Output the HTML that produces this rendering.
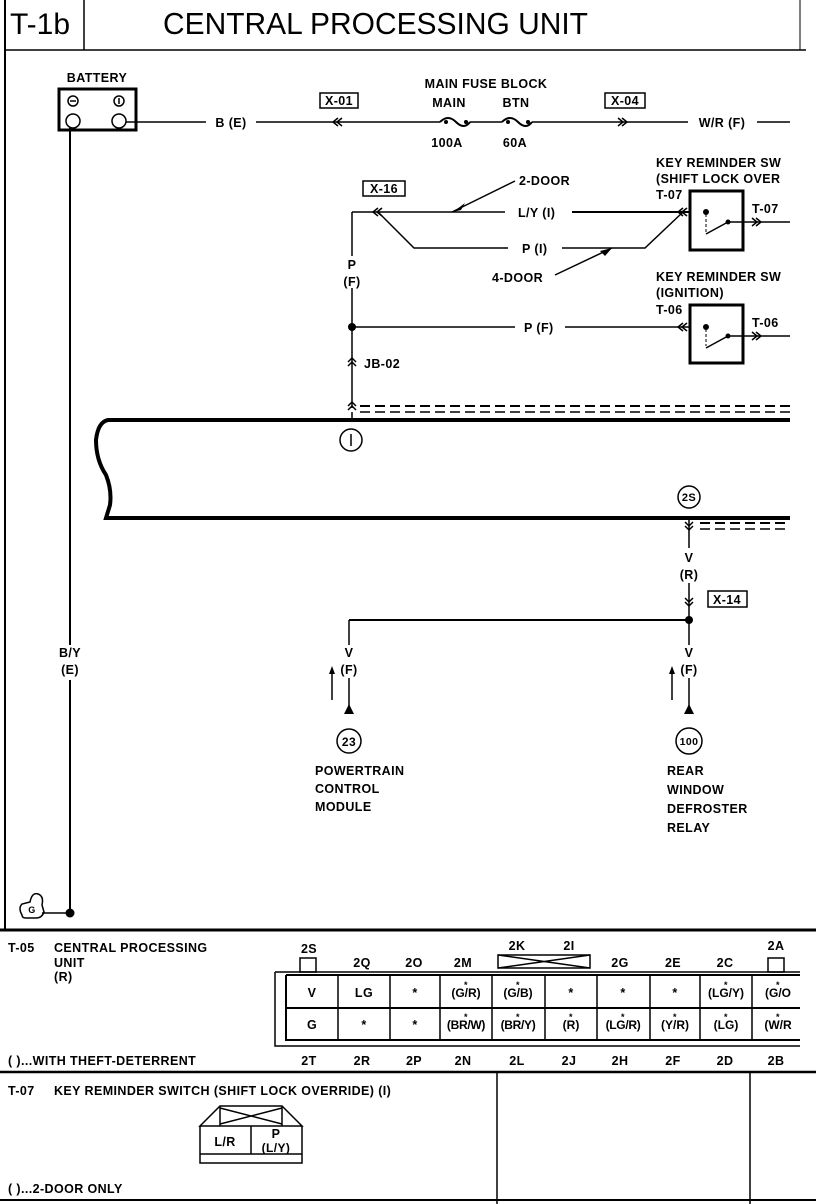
<!DOCTYPE html>
<html><head><meta charset="utf-8"><style>
html,body{margin:0;padding:0;background:#fff}
svg{display:block}
text{font-family:"Liberation Sans",sans-serif;font-weight:bold;font-size:12px;fill:#000;letter-spacing:0.4px}
.m{text-anchor:middle}
</style></head><body>
<svg width="816" height="1204" viewBox="0 0 816 1204" xmlns="http://www.w3.org/2000/svg">
<g stroke="#000" fill="none">
<line x1="5" y1="0" x2="5" y2="930" stroke-width="2"/>
<line x1="84" y1="0" x2="84" y2="50" stroke-width="1.5"/>
<line x1="800" y1="0" x2="800" y2="50" stroke-width="1"/>
<line x1="5" y1="50" x2="806" y2="50" stroke-width="1.5"/>
<rect x="59" y="89" width="77" height="41" stroke-width="3"/>
<circle cx="73" cy="101" r="5" stroke-width="1.5"/><line x1="70" y1="101" x2="76" y2="101" stroke-width="1.5"/>
<circle cx="119" cy="101" r="5" stroke-width="1.5"/><line x1="119" y1="98" x2="119" y2="104" stroke-width="1.5"/>
<circle cx="73" cy="121" r="7" stroke-width="1.5"/>
<circle cx="119" cy="121" r="7" stroke-width="1.5"/>
<line x1="126" y1="122" x2="206" y2="122" stroke-width="1.5"/>
<line x1="256" y1="122" x2="440" y2="122" stroke-width="1.5"/>
<path d="M440 122 Q448 114 456 122 T470 122" stroke-width="2"/>
<line x1="470" y1="122" x2="502" y2="122" stroke-width="1.5"/>
<path d="M502 122 Q510 114 518 122 T532 122" stroke-width="2"/>
<line x1="532" y1="122" x2="688" y2="122" stroke-width="1.5"/>
<line x1="757" y1="122" x2="790" y2="122" stroke-width="1.5"/>
<path d="M338 118 l-5 4 5 4 M342 118 l-5 4 5 4" stroke-width="1.5"/>
<path d="M618 118 l5 4 -5 4 M622 118 l5 4 -5 4" stroke-width="1.5"/>
<rect x="320" y="93" width="38" height="15" stroke-width="1.5"/>
<rect x="605" y="93" width="40" height="15" stroke-width="1.5"/>
<line x1="70" y1="128" x2="70" y2="645" stroke-width="2"/>
<line x1="70" y1="680" x2="70" y2="913" stroke-width="2"/>
<line x1="42" y1="913" x2="70" y2="913" stroke-width="1.5"/>
<path d="M22 915 Q18 908 22 904 L30 902 Q32 892 38 894 Q44 896 42 905 L44 912 Q42 918 36 918 L26 918 Q22 918 22 915 Z" stroke-width="1.5"/>
<rect x="363" y="181" width="42" height="15" stroke-width="1.5"/>
<line x1="352" y1="212" x2="352" y2="256" stroke-width="1.5"/>
<line x1="352" y1="212" x2="505" y2="212" stroke-width="1.5"/>
<line x1="572" y1="212" x2="690" y2="212" stroke-width="2"/>
<path d="M378 208 l-5 4 5 4 M382 208 l-5 4 5 4" stroke-width="1.5"/>
<polyline points="378,212 414,248 508,248" stroke-width="1.5"/>
<polyline points="562,248 645,248 683,212" stroke-width="1.5"/>
<path d="M683 208 l-5 4 5 4 M687 208 l-5 4 5 4" stroke-width="1.5"/>
<line x1="515" y1="181" x2="452" y2="212" stroke-width="1.5"/>
<line x1="555" y1="275" x2="612" y2="248" stroke-width="1.5"/>
<rect x="690" y="191" width="53" height="59" stroke-width="3"/>
<circle cx="706" cy="212" r="2.5" fill="#000"/>
<line x1="706" y1="214" x2="706" y2="232" stroke-dasharray="3,2"/>
<line x1="706" y1="234" x2="728" y2="222" stroke-width="1.5"/>
<circle cx="728" cy="222" r="2" fill="#000"/>
<line x1="728" y1="222" x2="790" y2="222" stroke-width="1.5"/>
<path d="M752 218 l5 4 -5 4 M756 218 l5 4 -5 4" stroke-width="1.5"/>
<line x1="352" y1="288" x2="352" y2="408" stroke-width="1.5"/>
<line x1="352" y1="327" x2="515" y2="327" stroke-width="1.5"/>
<line x1="565" y1="327" x2="690" y2="327" stroke-width="1.5"/>
<path d="M683 323 l-5 4 5 4 M687 323 l-5 4 5 4" stroke-width="1.5"/>
<rect x="690" y="305" width="53" height="58" stroke-width="3"/>
<circle cx="706" cy="327" r="2.5" fill="#000"/>
<line x1="706" y1="329" x2="706" y2="346" stroke-dasharray="3,2"/>
<line x1="706" y1="348" x2="728" y2="336" stroke-width="1.5"/>
<circle cx="728" cy="336" r="2" fill="#000"/>
<line x1="728" y1="336" x2="790" y2="336" stroke-width="1.5"/>
<path d="M752 332 l5 4 -5 4 M756 332 l5 4 -5 4" stroke-width="1.5"/>
<path d="M348 362 l4 -4 4 4 M348 366 l4 -4 4 4" stroke-width="1.5"/>
<path d="M348 406 l4 -4 4 4 M348 410 l4 -4 4 4" stroke-width="1.5"/>
<line x1="360" y1="406" x2="790" y2="406" stroke-width="2" stroke-dasharray="10,5"/>
<line x1="360" y1="412" x2="790" y2="412" stroke-width="1.5" stroke-dasharray="10,5"/>
<path d="M790 420 L108 420 Q98 422 96 440 Q96 460 106 475 Q112 490 110 505 L106 518 L790 518" stroke-width="4"/>
<line x1="352" y1="412" x2="352" y2="420" stroke-width="1.5"/>
<circle cx="351" cy="440" r="11" stroke-width="1.5"/>
<line x1="351" y1="434" x2="351" y2="446" stroke-width="1.5"/>
<circle cx="689" cy="497" r="11" stroke-width="1.5"/>
<line x1="700" y1="523" x2="790" y2="523" stroke-width="2" stroke-dasharray="10,5"/>
<line x1="700" y1="529" x2="790" y2="529" stroke-width="1.5" stroke-dasharray="10,5"/>
<line x1="689" y1="518" x2="689" y2="548" stroke-width="1.5"/>
<path d="M685 522 l4 4 4 -4 M685 526 l4 4 4 -4" stroke-width="1.5"/>
<line x1="689" y1="583" x2="689" y2="645" stroke-width="1.5"/>
<path d="M685 598 l4 4 4 -4 M685 602 l4 4 4 -4" stroke-width="1.5"/>
<rect x="708" y="591" width="39" height="16" stroke-width="1.5"/>
<line x1="349" y1="620" x2="689" y2="620" stroke-width="2"/>
<line x1="349" y1="620" x2="349" y2="645" stroke-width="1.5"/>
<line x1="349" y1="678" x2="349" y2="708" stroke-width="1.5"/>
<line x1="689" y1="678" x2="689" y2="708" stroke-width="1.5"/>
<line x1="332" y1="670" x2="332" y2="700" stroke-width="1.5"/>
<line x1="672" y1="670" x2="672" y2="700" stroke-width="1.5"/>
<circle cx="349" cy="741" r="12" stroke-width="1.5"/>
<circle cx="689" cy="741" r="13" stroke-width="1.5"/>
<line x1="0" y1="930" x2="816" y2="930" stroke-width="3"/>
<rect x="300" y="958" width="16" height="14" stroke-width="1.5"/>
<rect x="768" y="958" width="16" height="14" stroke-width="1.5"/>
<rect x="498" y="955" width="92" height="13" stroke-width="1.5"/>
<path d="M498 955 L590 968 M498 968 L590 955" stroke-width="1.5"/>
<path d="M275 972 L800 972 M275 972 L275 1046 L800 1046" stroke-width="1.5"/>
<path d="M286 975 L800 975 M286 975 L286 1040 L800 1040 M286 1008 L800 1008" stroke-width="2"/>
<path d="M338 975V1040 M390 975V1040 M440 975V1040 M492 975V1040 M545 975V1040 M597 975V1040 M650 975V1040 M700 975V1040 M752 975V1040" stroke-width="1.5"/>
<line x1="0" y1="1072" x2="816" y2="1072" stroke-width="2.5"/>
<line x1="497" y1="1072" x2="497" y2="1204" stroke-width="1.5"/>
<line x1="750" y1="1072" x2="750" y2="1204" stroke-width="1.5"/>
<line x1="0" y1="1200" x2="816" y2="1200" stroke-width="2"/>
<path d="M200 1126 L220 1106 L282 1106 L302 1126 Z" stroke-width="1.5"/>
<path d="M200 1126 L200 1163 L302 1163 L302 1126" stroke-width="1.5"/>
<line x1="200" y1="1154" x2="302" y2="1154" stroke-width="1.5"/>
<line x1="251" y1="1126" x2="251" y2="1154" stroke-width="1.5"/>
<path d="M220 1106 L220 1126 M282 1106 L282 1126 M220 1108 L282 1124 M220 1124 L282 1108" stroke-width="1.5"/>
</g>
<g fill="#000">
<circle cx="70" cy="913" r="4.5"/>
<circle cx="352" cy="327" r="4"/>
<circle cx="689" cy="620" r="4"/>
<polygon points="453,212 465,203 461,210"/>
<polygon points="612,248 600,251 605,256"/>
<polygon points="344,714 349,704 354,714"/>
<polygon points="684,714 689,704 694,714"/>
<polygon points="329,674 332,666 335,674"/>
<polygon points="669,674 672,666 675,674"/>
<circle cx="446" cy="122" r="2"/><circle cx="466" cy="122" r="2"/>
<circle cx="508" cy="122" r="2"/><circle cx="528" cy="122" r="2"/>
</g>
<text x="10" y="34" style="font-size:30px;font-weight:normal;letter-spacing:0">T-1b</text>
<text x="163" y="34" textLength="425" lengthAdjust="spacingAndGlyphs" style="font-size:31px;font-weight:normal;letter-spacing:0">CENTRAL PROCESSING UNIT</text>
<g style="font-size:12.5px">
<text x="97" y="82" class="m" style="font-size:12.5px">BATTERY</text>
<text x="231" y="127" class="m" style="font-size:12.5px">B (E)</text>
<text x="339" y="105" class="m" style="font-size:12.5px">X-01</text>
<text x="486" y="88" class="m" style="font-size:12.5px">MAIN FUSE BLOCK</text>
<text x="449" y="107" class="m" style="font-size:12.5px">MAIN</text>
<text x="516" y="107" class="m" style="font-size:12.5px">BTN</text>
<text x="447" y="147" class="m" style="font-size:12.5px">100A</text>
<text x="515" y="147" class="m" style="font-size:12.5px">60A</text>
<text x="625" y="105" class="m" style="font-size:12.5px">X-04</text>
<text x="722" y="127" class="m" style="font-size:12.5px">W/R (F)</text>
<text x="384" y="193" class="m" style="font-size:12.5px">X-16</text>
<text x="519" y="185" style="font-size:12.5px">2-DOOR</text>
<text x="518" y="217" style="font-size:12.5px">L/Y (I)</text>
<text x="522" y="253" style="font-size:12.5px">P (I)</text>
<text x="492" y="282" style="font-size:12.5px">4-DOOR</text>
<text x="656" y="167" style="font-size:12.5px">KEY REMINDER SW</text>
<text x="656" y="183" style="font-size:12.5px">(SHIFT LOCK OVER</text>
<text x="656" y="199" style="font-size:12.5px">T-07</text>
<text x="752" y="213" style="font-size:12.5px">T-07</text>
<text x="656" y="281" style="font-size:12.5px">KEY REMINDER SW</text>
<text x="656" y="297" style="font-size:12.5px">(IGNITION)</text>
<text x="656" y="314" style="font-size:12.5px">T-06</text>
<text x="752" y="327" style="font-size:12.5px">T-06</text>
<text x="352" y="269" class="m" style="font-size:12.5px">P</text>
<text x="352" y="286" class="m" style="font-size:12.5px">(F)</text>
<text x="524" y="332" style="font-size:12.5px">P (F)</text>
<text x="364" y="368" style="font-size:12.5px">JB-02</text>
<text x="689" y="501" class="m" style="font-size:11px">2S</text>
<text x="689" y="562" class="m" style="font-size:12.5px">V</text>
<text x="689" y="579" class="m" style="font-size:12.5px">(R)</text>
<text x="727" y="604" class="m" style="font-size:12.5px">X-14</text>
<text x="349" y="657" class="m" style="font-size:12.5px">V</text>
<text x="349" y="674" class="m" style="font-size:12.5px">(F)</text>
<text x="689" y="657" class="m" style="font-size:12.5px">V</text>
<text x="689" y="674" class="m" style="font-size:12.5px">(F)</text>
<text x="70" y="657" class="m" style="font-size:12.5px">B/Y</text>
<text x="70" y="674" class="m" style="font-size:12.5px">(E)</text>
<text x="349" y="746" class="m" style="font-size:12px">23</text>
<text x="689" y="745" class="m" style="font-size:10.5px">100</text>
<text x="315" y="775" style="font-size:12.5px">POWERTRAIN</text>
<text x="315" y="793" style="font-size:12.5px">CONTROL</text>
<text x="315" y="811" style="font-size:12.5px">MODULE</text>
<text x="667" y="775" style="font-size:12.5px">REAR</text>
<text x="667" y="794" style="font-size:12.5px">WINDOW</text>
<text x="667" y="813" style="font-size:12.5px">DEFROSTER</text>
<text x="667" y="832" style="font-size:12.5px">RELAY</text>
<text x="32" y="913" class="m" style="font-size:9px">G</text>
<text x="8" y="952" style="font-size:12.5px">T-05</text>
<text x="54" y="952" style="font-size:12.5px">CENTRAL PROCESSING</text>
<text x="54" y="967" style="font-size:12.5px">UNIT</text>
<text x="54" y="981" style="font-size:12.5px">(R)</text>
<text x="8" y="1065" style="font-size:12.5px">( )...WITH THEFT-DETERRENT</text>
<text x="8" y="1095" style="font-size:12.5px">T-07</text>
<text x="54" y="1095" style="font-size:12.5px">KEY REMINDER SWITCH (SHIFT LOCK OVERRIDE) (I)</text>
<text x="8" y="1193" style="font-size:12.5px">( )...2-DOOR ONLY</text>
<text x="225" y="1146" class="m" style="font-size:12.5px">L/R</text>
<text x="276" y="1138" class="m" style="font-size:12.5px">P</text>
<text x="276" y="1152" class="m" style="font-size:12px">(L/Y)</text>
</g>
<g style="font-size:12.5px">
<text x="309" y="953" class="m" style="font-size:12.5px">2S</text><text x="362" y="967" class="m" style="font-size:12.5px">2Q</text><text x="414" y="967" class="m" style="font-size:12.5px">2O</text><text x="463" y="967" class="m" style="font-size:12.5px">2M</text>
<text x="517" y="950" class="m" style="font-size:12.5px">2K</text><text x="569" y="950" class="m" style="font-size:12.5px">2I</text><text x="620" y="967" class="m" style="font-size:12.5px">2G</text><text x="673" y="967" class="m" style="font-size:12.5px">2E</text><text x="725" y="967" class="m" style="font-size:12.5px">2C</text><text x="776" y="950" class="m" style="font-size:12.5px">2A</text>
<text x="312" y="997" class="m" style="font-size:12.5px">V</text><text x="364" y="997" class="m" style="font-size:12.5px">LG</text><text x="415" y="997" class="m" style="font-size:12.5px">*</text><text x="466" y="997" class="m" style="font-size:12px;letter-spacing:0">(G/R)</text><text x="518" y="997" class="m" style="font-size:12px;letter-spacing:0">(G/B)</text><text x="571" y="997" class="m" style="font-size:12.5px">*</text><text x="623" y="997" class="m" style="font-size:12.5px">*</text><text x="675" y="997" class="m" style="font-size:12.5px">*</text><text x="726" y="997" class="m" style="font-size:12px;letter-spacing:0">(LG/Y)</text><text x="778" y="997" class="m" style="font-size:12px;letter-spacing:0">(G/O</text>
<text x="312" y="1029" class="m" style="font-size:12.5px">G</text><text x="364" y="1029" class="m" style="font-size:12.5px">*</text><text x="415" y="1029" class="m" style="font-size:12.5px">*</text><text x="466" y="1029" class="m" style="font-size:12px;letter-spacing:-0.3px">(BR/W)</text><text x="518" y="1029" class="m" style="font-size:12px;letter-spacing:-0.3px">(BR/Y)</text><text x="571" y="1029" class="m" style="font-size:12px;letter-spacing:0">(R)</text><text x="623" y="1029" class="m" style="font-size:12px;letter-spacing:-0.3px">(LG/R)</text><text x="675" y="1029" class="m" style="font-size:12px;letter-spacing:0">(Y/R)</text><text x="726" y="1029" class="m" style="font-size:12px;letter-spacing:0">(LG)</text><text x="778" y="1029" class="m" style="font-size:12px;letter-spacing:0">(W/R</text>
<text x="309" y="1065" class="m" style="font-size:12.5px">2T</text><text x="362" y="1065" class="m" style="font-size:12.5px">2R</text><text x="414" y="1065" class="m" style="font-size:12.5px">2P</text><text x="463" y="1065" class="m" style="font-size:12.5px">2N</text><text x="517" y="1065" class="m" style="font-size:12.5px">2L</text><text x="569" y="1065" class="m" style="font-size:12.5px">2J</text><text x="620" y="1065" class="m" style="font-size:12.5px">2H</text><text x="673" y="1065" class="m" style="font-size:12.5px">2F</text><text x="725" y="1065" class="m" style="font-size:12.5px">2D</text><text x="776" y="1065" class="m" style="font-size:12.5px">2B</text>
</g>
<g>
<text x="466" y="988" class="m" style="font-size:9px">*</text><text x="518" y="988" class="m" style="font-size:9px">*</text><text x="726" y="988" class="m" style="font-size:9px">*</text><text x="778" y="988" class="m" style="font-size:9px">*</text>
<text x="466" y="1020" class="m" style="font-size:9px">*</text><text x="518" y="1020" class="m" style="font-size:9px">*</text><text x="571" y="1020" class="m" style="font-size:9px">*</text><text x="623" y="1020" class="m" style="font-size:9px">*</text><text x="675" y="1020" class="m" style="font-size:9px">*</text><text x="726" y="1020" class="m" style="font-size:9px">*</text><text x="778" y="1020" class="m" style="font-size:9px">*</text>
</g>
</svg>
</body></html>
